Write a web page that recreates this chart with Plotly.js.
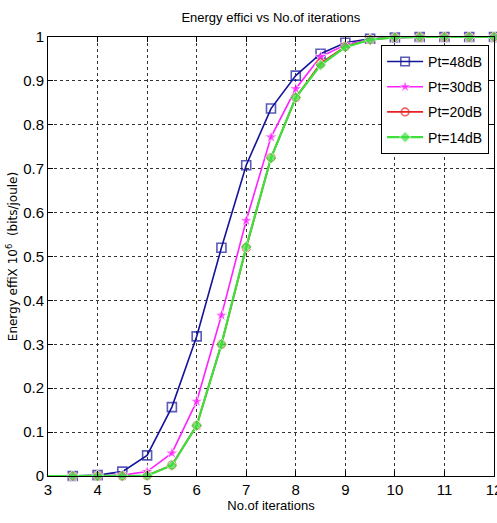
<!DOCTYPE html>
<html>
<head>
<meta charset="utf-8">
<script src="https://cdn.plot.ly/plotly-3.0.1.min.js"></script>
<style>html,body{margin:0;padding:0;background:#fff}#chart{width:497px;height:523px}</style>
</head>
<body>
<div id="chart"></div>
<script>
var iterations = [3,3.5,4,4.5,5,5.5,6,6.5,7,7.5,8,8.5,9,9.5,10,10.5,11,11.5,12];
var pt48 = [0,0,0.002,0.01,0.047,0.157,0.318,0.52,0.708,0.837,0.912,0.962,0.987,0.996,0.999,1,1,1,1];
var pt30 = [0,0,0,0.002,0.01,0.052,0.17,0.366,0.582,0.772,0.882,0.955,0.982,0.995,0.999,1,1,1,1];
var pt20 = [0,0,0,0,0.001,0.025,0.115,0.3,0.52,0.725,0.862,0.94,0.978,0.994,0.999,1,1,1,1];
var pt14 = [0,0,0,0,0.001,0.024,0.115,0.3,0.522,0.724,0.862,0.936,0.977,0.994,0.999,1,1,1,1];
var seriesNames = ['Pt=48dB','Pt=30dB','Pt=20dB','Pt=14dB'];
var xTicks = [3,4,5,6,7,8,9,10,11,12];
var yTicks = [0,0.1,0.2,0.3,0.4,0.5,0.6,0.7,0.8,0.9,1];

function sizes(s){ return iterations.map(function(v,i){ return i===0 ? 0 : s; }); }
var FONT = 'Liberation Sans Narrow, Arial Narrow, Liberation Sans, Arial, sans-serif';

var traces = [
  {x: iterations, y: pt48, name: seriesNames[0], legendgroup: 'a', mode: 'lines+markers', cliponaxis: false,
   line: {color: '#14149a', width: 1.6},
   marker: {symbol: 'square-open', size: sizes(9), color: '#14149a', line: {width: 1.6}}},
  {x: iterations, y: pt30, name: seriesNames[1], legendgroup: 'b', mode: 'lines+markers', cliponaxis: false,
   line: {color: '#ff22ff', width: 1.6},
   marker: {symbol: 'star', size: sizes(10), color: '#ff22ff'}},
  {x: iterations, y: pt20, name: seriesNames[2], legendgroup: 'c', mode: 'lines+markers', cliponaxis: false,
   line: {color: '#e82020', width: 1.8},
   marker: {symbol: 'circle-open', size: sizes(8), color: '#e82020', line: {width: 1.6}}},
  {x: iterations, y: pt14, name: seriesNames[3], legendgroup: 'd', mode: 'lines+markers', cliponaxis: false,
   line: {color: '#3ee03e', width: 2.2},
   marker: {symbol: 'diamond', size: sizes(9), color: '#3ee03e'}}
];

var layout = {
  width: 497, height: 523,
  margin: {l: 48, r: 3, t: 37, b: 47},
  paper_bgcolor: '#fff', plot_bgcolor: '#fff',
  font: {family: FONT, size: 13, color: '#000'},
  title: {text: 'Energy effici vs No.of iterations', font: {family: FONT, size: 13, color: '#000'},
          x: 0.545, xanchor: 'center', y: 0.966, yanchor: 'middle'},
  xaxis: {range: [3, 12], tickvals: xTicks, ticktext: xTicks.map(String), ticklabeloverflow: 'allow', automargin: false,
          ticks: 'inside', ticklen: 5, tickcolor: '#000', showline: true, linecolor: '#000', linewidth: 1,
          mirror: 'ticks', showgrid: true, gridcolor: '#333', griddash: 'dot', gridwidth: 1, zeroline: false,
          tickfont: {family: FONT, size: 15},
          title: {text: 'No.of iterations', font: {family: FONT, size: 13}, standoff: 2}},
  yaxis: {range: [0, 1], tickvals: yTicks, ticktext: yTicks.map(String), automargin: false,
          ticks: 'inside', ticklen: 5, tickcolor: '#000', showline: true, linecolor: '#000', linewidth: 1,
          mirror: 'ticks', showgrid: true, gridcolor: '#333', griddash: 'dot', gridwidth: 1, zeroline: false,
          tickfont: {family: FONT, size: 15},
          title: {text: 'Energy effiX 10<sup>6</sup>  (bits/joule)', font: {family: 'DejaVu Sans, sans-serif', size: 12}, standoff: 2}},
  legend: {x: 0.989, y: 0.982, xanchor: 'right', yanchor: 'top', bgcolor: '#fff',
           bordercolor: '#000', borderwidth: 1, font: {family: FONT, size: 14},
           tracegroupgap: 4, itemwidth: 36},
  showlegend: true
};

Plotly.newPlot('chart', traces, layout, {displayModeBar: false, staticPlot: true});
</script>
</body>
</html>
